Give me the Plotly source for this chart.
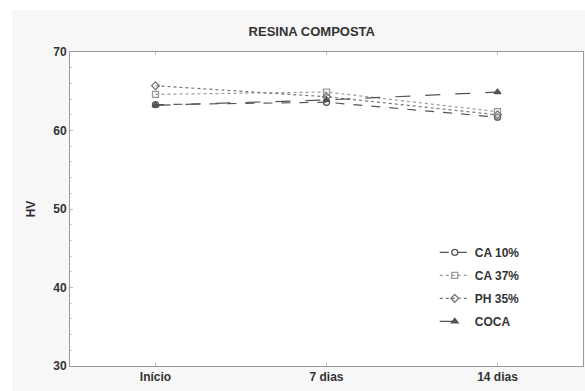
import plotly.graph_objects as go

categories = ["Início", "7 dias", "14 dias"]
ca10 = [63.3, 63.6, 61.7]
ca37 = [64.6, 64.9, 62.4]
ph35 = [65.7, 64.3, 62.0]
coca = [63.2, 63.9, 64.9]
y_ticks = [30, 40, 50, 60, 70]

xs = list(range(len(categories)))
fig = go.Figure()
series = [
    ("CA 10%", ca10, "#555555", "dash", "circle-open"),
    ("CA 37%", ca37, "#9a9a9a", "dot", "square-open"),
    ("PH 35%", ph35, "#777777", "dot", "diamond-open"),
    ("COCA", coca, "#555555", "longdash", "triangle-up"),
]
for name, vals, col, dash, sym in series:
    fig.add_trace(go.Scatter(
        x=xs, y=vals, mode="lines+markers", name=f"<b>{name}</b>", legendgroup=name,
        line=dict(color=col, dash=dash, width=1.2),
        marker=dict(symbol=sym, size=6, color=col, line=dict(color=col, width=1.3)),
    ))

# white strips on left and top outside the grey panel
fig.add_shape(type="rect", xref="paper", yref="paper", x0=-0.2, x1=-0.113, y0=-0.2, y1=1.3,
              fillcolor="white", line=dict(width=0), layer="below")
fig.add_shape(type="rect", xref="paper", yref="paper", x0=-0.2, x1=1.1, y0=1.134, y1=1.3,
              fillcolor="white", line=dict(width=0), layer="below")

fig.update_layout(
    width=585, height=391,
    margin=dict(l=70, r=2, t=52, b=25),
    paper_bgcolor="#f7f7f7", plot_bgcolor="white",
    font=dict(family="Liberation Sans, Arial", color="#333333", size=12),
    title=dict(text="<b>RESINA COMPOSTA</b>", x=0.533, xanchor="center", y=0.92, yanchor="middle",
               font=dict(size=13, color="#333333")),
    showlegend=True,
    legend=dict(x=0.711, y=0.408, xanchor="left", yanchor="top", bgcolor="rgba(0,0,0,0)",
                font=dict(size=12, color="#333333"), itemwidth=30, tracegroupgap=4),
    xaxis=dict(range=[-0.5, 2.5], tickmode="array", tickvals=xs,
               ticktext=[f"<b>{c}</b>" for c in categories],
               showgrid=False, zeroline=False, showline=True, linecolor="#999999", mirror="ticks",
               ticks="inside", ticklen=3, tickcolor="#bbbbbb", tickfont=dict(size=12, color="#333333")),
    yaxis=dict(range=[30, 70], tickmode="array", tickvals=y_ticks,
               ticktext=[f"<b>{v}</b>" for v in y_ticks],
               showgrid=False, zeroline=False, showline=True, linecolor="#999999", mirror=True,
               ticks="inside", ticklen=3, tickcolor="#bbbbbb", tickfont=dict(size=12, color="#333333"),
               minor=dict(dtick=2, ticks="inside", ticklen=2, tickcolor="#cccccc"),
               title=dict(text="<b>HV</b>", font=dict(size=12, color="#333333"), standoff=15)),
)
fig.write_html("out.html", config={"displayModeBar": False},
               post_script="document.body.style.margin='0';document.body.style.overflow='hidden';")
